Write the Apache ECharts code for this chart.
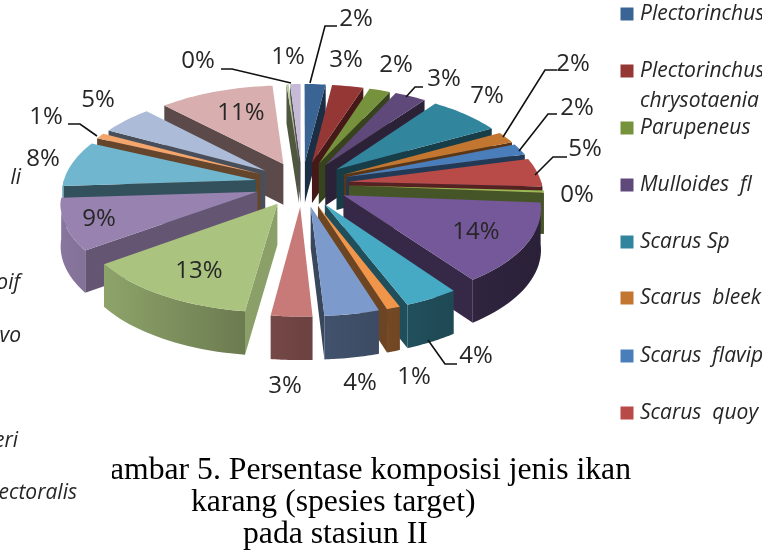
<!DOCTYPE html>
<html>
<head>
<meta charset="utf-8">
<style>html,body{margin:0;padding:0;background:#fff}#chart{width:762px;height:554px}</style>
<script src="https://cdn.jsdelivr.net/npm/echarts@6/dist/echarts.min.js"></script>
</head>
<body>
<div id="chart"></div>
<script>
// clockwise from 12 o'clock, the two "0%" slices are thin but not empty
const sliceValues = [2, 3, 2, 3, 7, 2, 2, 5, 0.4, 14, 4, 1, 4, 3, 13, 9, 8, 1, 5, 11, 0.2, 1];
const sliceColors = ['#3a6494', '#953735', '#76923c', '#5f497a', '#31859c', '#c3762f', '#4a7ebb', '#b84a47',
  '#98b954', '#75589a', '#46aac4', '#f0954a', '#7c9acb', '#c77a78', '#aac37f', '#9883b0',
  '#71b6cf', '#f4a56b', '#abbbd8', '#d8afae', '#bdcf96', '#c6bbd6'];
// label centres and leader lines, same order as sliceValues
const labelAt = [[356, 19], [346, 60], [396, 65], [444, 79], [487, 96], [573, 64], [577, 108], [585, 149], [577, 195],
  [476, 232], [476, 356], [414, 377], [360, 383], [285, 386], [199, 271], [99, 219], [43, 159], [46, 117], [98, 100],
  [241, 113], [198, 61], [288, 57]];
const leaders = [
  [[310, 83], [325, 26], [337, 26]],
  [[406, 97], [415, 87], [423, 87]],
  [[503, 137], [545, 70], [557, 70]],
  [[519, 151], [548, 114], [557, 114]],
  [[535, 175], [553, 157], [567, 157]],
  [[428, 340], [445, 364], [457, 364]],
  [[68, 124], [80, 124], [97, 136]],
  [[221, 69], [232, 69], [291, 83]]
];
const legendNames = ['Plectorinchus', 'Plectorinchus\nchrysotaenia', 'Parupeneus', 'Mulloides  fl', 'Scarus Sp', 'Scarus  bleek', 'Scarus  flavip', 'Scarus  quoy'];
const legendY = [14, 71, 128, 185, 242, 298, 356, 413];
const legendLeftovers = [['li', 178, 21], ['oif', 283, 20], ['vo', 336, 21], ['eri', 441, 18], ['ectoralis', 493, 77]];
const captionLines = ['ambar 5. Persentase komposisi jenis ikan', 'karang (spesies target)', 'pada stasiun II'];

const total = sliceValues.reduce((a, b) => a + b, 0);
const cx = 302, cy = 184, R = 193, EXPLODE = 47, TILT = 0.475, PERSP = 0.14, DEPTH = 41;

function project(X, Z, h) {
  const s = 1 / (1 - PERSP * Z / (R + EXPLODE));
  return [cx + X * s, cy + TILT * Z * s + h * Math.pow(s, 0.4)];
}
function shade(hex, f) {
  const n = parseInt(hex.slice(1), 16);
  return 'rgb(' + [(n >> 16) & 255, (n >> 8) & 255, n & 255].map(c => Math.round(c * f)).join(',') + ')';
}

let run = 0;
const spans = sliceValues.map(v => {
  const a0 = run / total * Math.PI * 2;
  run += v;
  return [a0, run / total * Math.PI * 2];
});
// back slices first so the front ones paint over them
const paintOrder = sliceValues.map((v, i) => i).sort((a, b) =>
  -Math.cos((spans[a][0] + spans[a][1]) / 2) - -Math.cos((spans[b][0] + spans[b][1]) / 2));

function renderSlice(params, api) {
  const i = api.value(0);
  const a0 = api.value(1), a1 = api.value(2), mid = (a0 + a1) / 2;
  const ox = Math.sin(mid) * EXPLODE, oz = -Math.cos(mid) * EXPLODE;
  const color = sliceColors[i];
  const rimPt = (a, h) => project(ox + Math.sin(a) * R, oz - Math.cos(a) * R, h);
  const apex = h => project(ox, oz, h);
  const children = [];
  const wall = (a, f) => ({
    type: 'polygon',
    shape: { points: [apex(0), rimPt(a, 0), rimPt(a, DEPTH), apex(DEPTH)] },
    style: { fill: shade(color, f) }
  });
  // start walls catch more light the closer they get to 6 o'clock
  if (Math.sin(a0) < 0) children.push(wall(a0, 0.42 + 0.4 * Math.max(0, -Math.cos(a0))));
  if (Math.sin(a1) > 0) children.push(wall(a1, 0.46));

  // outer rim, only the part turned to the viewer
  const r0 = Math.max(a0, Math.PI / 2), r1 = Math.min(a1, Math.PI * 1.5);
  if (r1 > r0) {
    const up = [], down = [];
    for (let k = 0; k <= 24; k++) {
      const a = r0 + (r1 - r0) * k / 24;
      up.push(rimPt(a, 0));
      down.unshift(rimPt(a, DEPTH));
    }
    children.push({
      type: 'polygon',
      shape: { points: up.concat(down) },
      style: {
        fill: {
          type: 'linear', x: 60, y: 0, x2: 540, y2: 0, global: true,
          colorStops: [{ offset: 0, color: shade(color, 0.9) }, { offset: 0.5, color: shade(color, 0.55) }, { offset: 1, color: shade(color, 0.36) }]
        }
      }
    });
  }

  const top = [apex(0)];
  const n = Math.max(2, Math.ceil((a1 - a0) / 0.03));
  for (let k = 0; k <= n; k++) top.push(rimPt(a0 + (a1 - a0) * k / n, 0));
  children.push({ type: 'polygon', shape: { points: top }, style: { fill: color } });
  return { type: 'group', children };
}

const labelStyle = { fontFamily: 'Open Sans', fontSize: 24, fill: '#262626', textAlign: 'center', textVerticalAlign: 'middle' };
const legendStyle = { fontFamily: 'Open Sans', fontStyle: 'italic', fontSize: 21, fill: '#262626', textVerticalAlign: 'middle', lineHeight: 30 };
const graphics = [];
sliceValues.forEach((v, i) => {
  graphics.push({
    type: 'text', x: labelAt[i][0], y: labelAt[i][1], z: 10,
    style: Object.assign({ text: Math.round(v) + '%' }, labelStyle)
  });
});
leaders.forEach(pts => {
  graphics.push({ type: 'polyline', z: 9, shape: { points: pts }, style: { stroke: '#111', lineWidth: 1.6, fill: null } });
});
legendNames.forEach((name, i) => {
  graphics.push({ type: 'rect', z: 10, shape: { x: 620.5, y: legendY[i] - 6.5, width: 13, height: 13 }, style: { fill: sliceColors[i] } });
  graphics.push({
    type: 'text', z: 10, x: 640, y: legendY[i] + (name.indexOf('\n') >= 0 ? 15 : 0),
    style: Object.assign({ text: name }, legendStyle)
  });
});
legendLeftovers.forEach(([t, y, right]) => {
  graphics.push({
    type: 'text', z: 10, x: right, y: y,
    style: Object.assign({ text: t, textAlign: 'right' }, legendStyle)
  });
});
const captionX = [110, 191, 243], captionY = [471, 503, 535];
captionLines.forEach((t, i) => {
  graphics.push({
    type: 'text', z: 10, x: captionX[i], y: captionY[i],
    style: { text: t, fontFamily: 'Liberation Serif', fontSize: 31.7, fill: '#000', textVerticalAlign: 'middle' }
  });
});
graphics.push({ type: 'rect', z: 11, shape: { x: 90, y: 455, width: 22, height: 30 }, style: { fill: '#fff' } });

const myChart = echarts.init(document.getElementById('chart'), null, { renderer: 'canvas' });
myChart.setOption({
  animation: false,
  backgroundColor: '#fff',
  graphic: graphics,
  series: [{
    type: 'custom',
    coordinateSystem: 'none',
    renderItem: renderSlice,
    silent: true,
    dimensions: ['slice', 'start', 'end'],
    data: paintOrder.map(i => [i, spans[i][0], spans[i][1]])
  }]
});
</script>
</body>
</html>
